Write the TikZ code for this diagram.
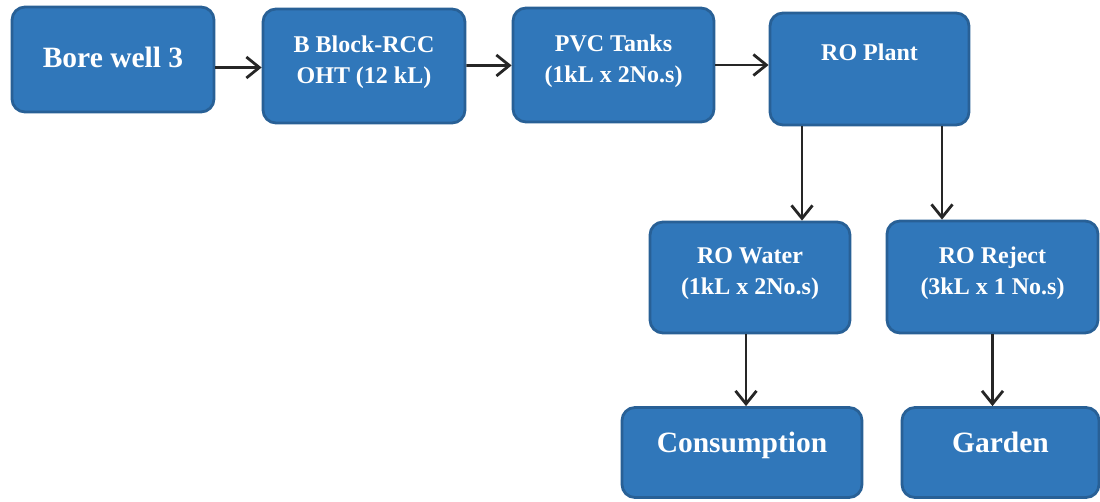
\documentclass[tikz,border=0pt]{standalone}
\usepackage{fontspec}
\setmainfont{Liberation Serif}
\usetikzlibrary{positioning,arrows.meta}
\definecolor{boxblue}{RGB}{48,119,186}
\definecolor{boxedge}{RGB}{40,96,150}

\begin{document}
\begin{tikzpicture}[x=1pt,y=-1pt,line width=2.8pt,>={Straight Barb[length=13pt,width=21pt]}]
\tikzstyle{bx} = [draw=boxedge,fill=boxblue,line width=2.8pt,rounded corners=13pt,text=white,align=center,font=\bfseries\fontsize{24}{31}\selectfont]
\tikzstyle{bxbig} = [bx,font=\bfseries\fontsize{29.5}{34}\selectfont]
\tikzstyle{ln} = [->,draw=black!85]
\useasboundingbox (0,0) rectangle (1100,501);
\node[bxbig,minimum width=202pt,minimum height=105pt,text height=20pt,text depth=5pt] (bore) at (113,59.5) {Bore well 3} ;
\node[bx,minimum width=202pt,minimum height=114pt,text depth=12.3pt] (oht) at (364,66) {B Block-RCC\\OHT (12 kL)} ;
\node[bx,minimum width=201pt,minimum height=114pt,text depth=12.3pt] (pvc) at (613.5,65) {PVC Tanks\\(1kL x 2No.s)} ;
\node[bx,minimum width=199pt,minimum height=112pt,text height=17pt,text depth=35pt] (roplant) at (869.5,69) {RO Plant} ;
\node[bx,minimum width=200pt,minimum height=111pt,text depth=12.3pt] (rowater) at (750,277.5) {RO Water\\(1kL x 2No.s)} ;
\node[bx,minimum width=211pt,minimum height=112pt,text depth=12.3pt] (roreject) at (992.5,277) {RO Reject\\(3kL x 1 No.s)} ;
\node[bxbig,minimum width=240pt,minimum height=90pt,text height=20pt,text depth=21pt] (consumption) at (742,452.5) {Consumption} ;
\node[bxbig,minimum width=197pt,minimum height=90pt,text height=20pt,text depth=21pt] (garden) at (1000.5,452.5) {Garden} ;
\draw [ln] ([yshift=-8pt]bore.east) -- ([yshift=-8pt]bore.east -| oht.west) ;
\draw [ln] (oht) -- (pvc) ;
\draw [ln] (pvc.east) -- (pvc.east -| roplant.west) ;
\draw [ln] ([xshift=-67.5pt]roplant.south) -- ([xshift=-67.5pt]roplant.south |- rowater.north) ;
\draw [ln] ([xshift=72.5pt]roplant.south) -- ([xshift=72.5pt]roplant.south |- roreject.north) ;
\draw [ln] ([xshift=-4pt]rowater.south) -- ([xshift=-4pt]rowater.south |- consumption.north) ;
\draw [ln] (roreject.south) -- (roreject.south |- garden.north) ;
\end{tikzpicture}
\end{document}
